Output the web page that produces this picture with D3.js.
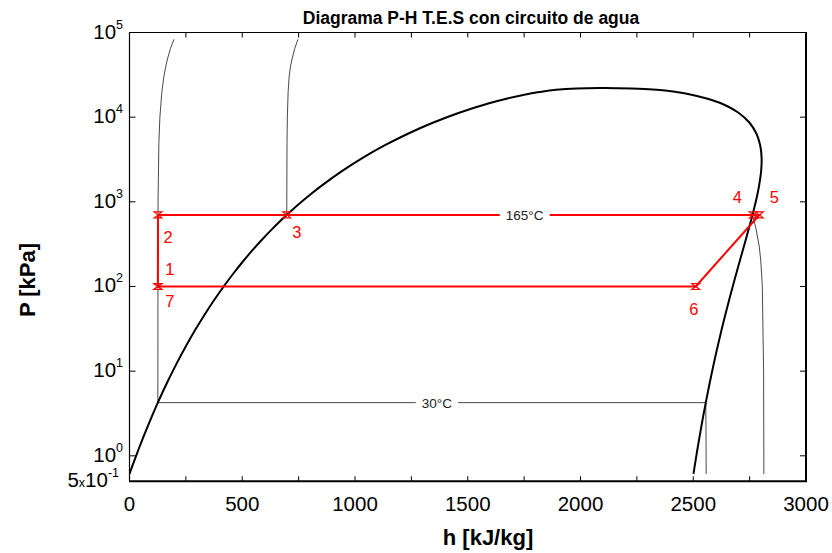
<!DOCTYPE html>
<html>
<head>
<meta charset="utf-8">
<script src="https://cdn.jsdelivr.net/npm/d3@7"></script>
<style>
  html, body { margin: 0; padding: 0; background: #fff; }
  svg { display: block; font-family: "Liberation Sans", Arial, sans-serif; }
</style>
</head>
<body>
<svg id="chart" width="832" height="553"></svg>
<script>
// Saturation line of water: temperature [°C], pressure [kPa], hf and hg [kJ/kg]
const satT  = [0.01, 5, 10, 15, 20, 25, 30, 40, 50, 60, 70, 80, 90, 100, 110, 120, 130, 140, 150, 160, 170, 180, 190, 200, 220, 240, 260, 280, 300, 320, 340, 350, 360, 365, 370, 373.95];
const satP  = [0.6117, 0.8725, 1.2281, 1.7057, 2.3392, 3.1698, 4.2469, 7.3851, 12.352, 19.946, 31.201, 47.416, 70.183, 101.42, 143.38, 198.67, 270.28, 361.53, 476.16, 618.23, 792.18, 1002.8, 1255.2, 1554.9, 2319.6, 3346.9, 4692.3, 6416.6, 8587.9, 11284, 14601, 16529, 18666, 19821, 21044, 22064];
const satHf = [0.001, 21.02, 42.02, 62.98, 83.91, 104.83, 125.73, 167.53, 209.34, 251.18, 293.07, 335.02, 377.04, 419.17, 461.42, 503.81, 546.38, 589.16, 632.18, 675.47, 719.08, 763.05, 807.43, 852.26, 943.55, 1037.5, 1135.0, 1236.9, 1345.0, 1462.2, 1594.5, 1671.2, 1761.5, 1817.2, 1891.7, 2084.3];
const satHg = [2500.9, 2510.1, 2519.2, 2528.4, 2537.4, 2546.5, 2555.6, 2573.5, 2591.3, 2608.8, 2626.1, 2643.0, 2659.6, 2675.6, 2691.1, 2706.0, 2720.1, 2733.5, 2745.9, 2757.4, 2767.7, 2777.2, 2785.3, 2792.0, 2801.1, 2803.0, 2796.6, 2779.9, 2749.6, 2700.6, 2622.7, 2563.6, 2481.5, 2424.0, 2338.8, 2084.3];

// Isotherm 30 °C: compressed liquid, two-phase, superheated vapour
const iso30P = [83000, 65000, 50000, 40000, 30000, 20000, 10000, 5000, 1000, 4.2469, 4.2469, 2, 1, 0.6117];
const iso30H = [197, 182, 169.5, 161, 152.3, 143.6, 134.8, 130.2, 126.6, 125.7, 2555.6, 2556.6, 2557, 2557.3];

// Isotherm 165 °C
const iso165P = [83000, 65000, 50000, 40000, 30000, 20000, 10000, 5000, 700.9, 700.9, 500, 300, 200, 100, 10, 1, 0.6117];
const iso165H = [747, 733, 722, 714, 708, 703.5, 700, 698.5, 697.3, 2762.8, 2777, 2792.6, 2799.6, 2806.3, 2812, 2813, 2813];

// Cycle state points 1..7
const cycleLabels = ["1", "2", "3", "4", "5", "6", "7"];
const cycleH = [125.8, 126.5, 697.3, 2766, 2793, 2511, 125.8];
const cycleP = [100, 700.9, 700.9, 700.9, 700.9, 100, 100];

// Axis ticks
const xTicksMajor = [0, 500, 1000, 1500, 2000, 2500, 3000];
const xTicksMinor = [0, 250, 500, 750, 1000, 1250, 1500, 1750, 2000, 2250, 2500, 2750, 3000];
const yTickExps = [0, 1, 2, 3, 4, 5];

const svg = d3.select("#chart");
const L = 129.5, R = 806, T = 32.5, B = 481.3;

const x = d3.scaleLinear().domain([0, 3000]).range([L, R]);
const y = d3.scaleLog().domain([0.5, 1e5]).range([B, T]);

svg.append("rect").attr("width", 832).attr("height", 553).attr("fill", "#fff");

const plot = svg.append("g");
svg.append("clipPath").attr("id", "clip")
  .append("rect").attr("x", L).attr("y", T).attr("width", R - L).attr("height", B - T);
const inner = plot.append("g").attr("clip-path", "url(#clip)");

const line = d3.line().x(d => x(d[0])).y(d => y(d[1]));

// Isotherms (thin grey)
function isotherm(H, P) {
  const pts = H.map((h, i) => [h, P[i]]);
  inner.append("path").datum(pts)
    .attr("d", line).attr("fill", "none")
    .attr("stroke", "#333").attr("stroke-width", 0.9);
  return pts;
}
isotherm(iso30H, iso30P);
isotherm(iso165H, iso165P);

// Saturation dome
const dome = satHf.map((h, i) => [h, satP[i]])
  .concat(satHg.slice().reverse().slice(1).map((h, i) => [h, satP[satP.length - 2 - i]]));
inner.append("path").datum(dome)
  .attr("d", d3.line().x(d => x(d[0])).y(d => y(d[1])).curve(d3.curveCatmullRom.alpha(0.5)))
  .attr("fill", "none").attr("stroke", "#000").attr("stroke-width", 2);

// Cycle
const cyc = cycleH.map((h, i) => [h, cycleP[i]]);
inner.append("path").datum(cyc)
  .attr("d", line).attr("fill", "none")
  .attr("stroke", "#ff0000").attr("stroke-width", 2);

const marker = "M-4,-3H4L-4,3H4Z";
inner.selectAll(".mk").data(cyc).join("path")
  .attr("transform", d => `translate(${x(d[0])},${y(d[1])})`)
  .attr("d", marker).attr("fill", "none")
  .attr("stroke", "#ff0000").attr("stroke-width", 1.1);

// Cycle point labels
const labelOffsets = [[12, -11], [10, 28], [10, 23], [-16, -12], [15, -12], [-2, 29], [12, 21]];
svg.selectAll(".pl").data(cyc).join("text")
  .attr("x", (d, i) => x(d[0]) + labelOffsets[i][0])
  .attr("y", (d, i) => y(d[1]) + labelOffsets[i][1])
  .attr("text-anchor", "middle")
  .attr("font-size", 16.5).attr("fill", "#ff0000")
  .text((d, i) => cycleLabels[i]);

// Isotherm labels on the two-phase segments
function isoLabel(hA, hB, p, txt) {
  const cx = (x(hA) + x(hB)) / 2 + 5, cy = y(p);
  const g = svg.append("g");
  const t = g.append("text").attr("x", cx).attr("y", cy + 5)
    .attr("text-anchor", "middle").attr("font-size", 13.5).attr("fill", "#222").text(txt);
  const bb = t.node().getBBox();
  g.insert("rect", "text").attr("x", bb.x - 6).attr("y", cy - 6)
    .attr("width", bb.width + 12).attr("height", 12).attr("fill", "#fff");
}
isoLabel(125.7, 2555.6, 4.2469, "30°C");
isoLabel(697.3, 2762.8, 700.9, "165°C");

// Frame
svg.append("line").attr("x1", L).attr("x2", R).attr("y1", T).attr("y2", T).attr("stroke", "#000").attr("stroke-width", 1);
svg.append("line").attr("x1", L).attr("x2", L).attr("y1", T).attr("y2", B).attr("stroke", "#000").attr("stroke-width", 1.2);
svg.append("line").attr("x1", L - 0.5).attr("x2", R + 1).attr("y1", B).attr("y2", B).attr("stroke", "#000").attr("stroke-width", 2);
svg.append("line").attr("x1", R).attr("x2", R).attr("y1", T - 0.5).attr("y2", B).attr("stroke", "#000").attr("stroke-width", 2);

// Ticks (inward)
svg.selectAll(".xtb").data(xTicksMinor).join("line")
  .attr("x1", d => x(d)).attr("x2", d => x(d)).attr("y1", B).attr("y2", B - 5)
  .attr("stroke", "#000").attr("stroke-width", 1);
svg.selectAll(".xtt").data(xTicksMinor).join("line")
  .attr("x1", d => x(d)).attr("x2", d => x(d)).attr("y1", T).attr("y2", T + 5)
  .attr("stroke", "#000").attr("stroke-width", 1);
svg.selectAll(".ytl").data(yTickExps).join("line")
  .attr("x1", L).attr("x2", L + 6).attr("y1", d => y(Math.pow(10, d))).attr("y2", d => y(Math.pow(10, d)))
  .attr("stroke", "#000").attr("stroke-width", 1);
svg.selectAll(".ytr").data(yTickExps).join("line")
  .attr("x1", R).attr("x2", R - 6).attr("y1", d => y(Math.pow(10, d))).attr("y2", d => y(Math.pow(10, d)))
  .attr("stroke", "#000").attr("stroke-width", 1);

// X tick labels
svg.selectAll(".xl").data(xTicksMajor).join("text")
  .attr("x", d => x(d)).attr("y", 510.5)
  .attr("text-anchor", "middle").attr("font-size", 20.5).attr("fill", "#000")
  .text(d => d);

// Y tick labels 10^n
yTickExps.forEach(e => {
  const t = svg.append("text").attr("x", 123).attr("y", y(Math.pow(10, e)) + 6)
    .attr("text-anchor", "end").attr("font-size", 20.5).attr("fill", "#000");
  t.append("tspan").text("10");
  t.append("tspan").attr("font-size", 12.5).attr("dy", -10).text(e);
});
{
  const t = svg.append("text").attr("x", 119).attr("y", y(0.5) + 6)
    .attr("text-anchor", "end").attr("font-size", 20.5).attr("fill", "#000");
  t.append("tspan").text("5");
  t.append("tspan").attr("font-size", 12.5).text("x");
  t.append("tspan").text("10");
  t.append("tspan").attr("font-size", 12.5).attr("dy", -10).text("-1");
}

// Title and axis titles
svg.append("text").attr("x", 471).attr("y", 24)
  .attr("text-anchor", "middle").attr("font-size", 17.5).attr("font-weight", "bold")
  .text("Diagrama P-H T.E.S con circuito de agua");
svg.append("text").attr("x", 488).attr("y", 545)
  .attr("text-anchor", "middle").attr("font-size", 22).attr("font-weight", "bold")
  .text("h [kJ/kg]");
svg.append("text").attr("transform", "translate(35,280) rotate(-90)")
  .attr("text-anchor", "middle").attr("font-size", 22).attr("font-weight", "bold")
  .text("P [kPa]");
</script>
</body>
</html>
